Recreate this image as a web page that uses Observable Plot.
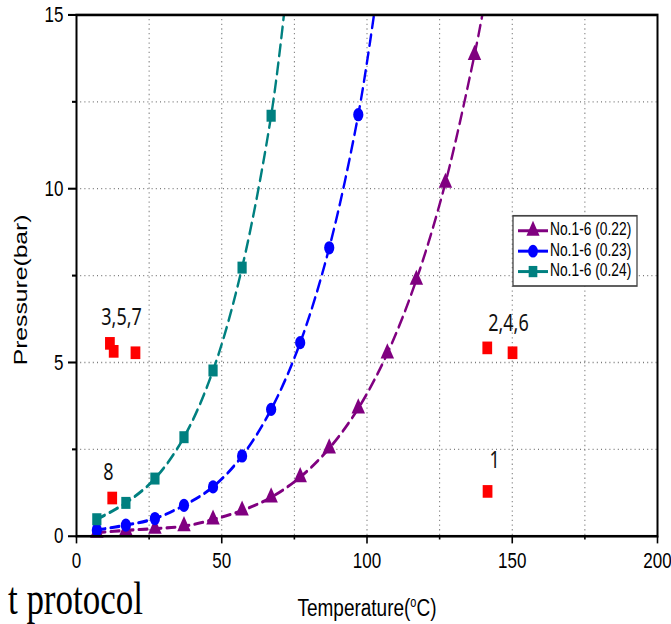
<!DOCTYPE html>
<html>
<head>
<meta charset="utf-8">
<script src="https://cdn.jsdelivr.net/npm/d3@7"></script>
<script src="https://cdn.jsdelivr.net/npm/@observablehq/plot@0.6"></script>
<style>
  html, body { margin: 0; padding: 0; background: #fff; }
  #chart { width: 671px; height: 624px; overflow: hidden; position: relative; }
  #chart svg { transform-origin: 0 0; transform: scale(1, 1.3); display: block; }
</style>
</head>
<body>
<div id="chart"></div>
<script>
// Measured temperatures (°C)
const tempsPurple = [7, 17, 27, 37, 47, 57, 67, 77, 87, 97, 107, 117, 127, 137];
const tempsBlue = [7, 17, 27, 37, 47, 57, 67, 77, 87, 97];
const tempsTeal = [7, 17, 27, 37, 47, 57, 67];

// Pressure (bar) for each sample series
const pressPurple = [0.1, 0.17, 0.22, 0.29, 0.48, 0.74, 1.12, 1.7, 2.53, 3.68, 5.26, 7.38, 10.17, 13.85];
const pressBlue = [0.18, 0.32, 0.51, 0.89, 1.42, 2.31, 3.65, 5.57, 8.3, 12.13];
const pressTeal = [0.49, 0.96, 1.66, 2.85, 4.77, 7.73, 12.1];

// Temperature where each fitted curve leaves the top of the plot (15 bar)
const fitExitTemp = [139.7, 102.4, 71.4];

const seriesNames = ["No.1-6 (0.22)", "No.1-6 (0.23)", "No.1-6 (0.24)"];
const seriesColors = ["#800080", "#0000ff", "#008080"];
const seriesSymbols = ["triangle", "circle", "square"];

// Test points (red squares) and their group labels
const testTemp = [11.5, 12.8, 20.3, 12.3, 141.4, 150.1, 141.5];
const testPress = [5.55, 5.32, 5.28, 1.1, 5.42, 5.28, 1.29];
const groupLabels = ["3,5,7", "8", "2,4,6", "1"];
const groupLabelTemp = [15.5, 11, 148.7, 143.9];
const groupLabelPress = [6.29, 1.84, 6.12, 2.18];

// Axis ticks
const xTicks = [0, 50, 100, 150, 200];
const xMinor = [25, 75, 125, 175];
const yTicks = [0, 5, 10, 15];
const yMinor = [2.5, 7.5, 12.5];
const xGrid = [25, 50, 75, 100, 125, 150, 175];
const yGrid = [2.5, 5, 7.5, 10, 12.5];

const toPoints = (xs, ys) => xs.map((x, i) => ({x, y: ys[i]}));
const series = [
  toPoints(tempsPurple, pressPurple),
  toPoints(tempsBlue, pressBlue),
  toPoints(tempsTeal, pressTeal)
];
const fits = series.map((pts, i) => [...pts, {x: fitExitTemp[i], y: 15}]);
const tests = toPoints(testTemp, testPress);
const labels = groupLabels.map((t, i) => ({t, x: groupLabelTemp[i], y: groupLabelPress[i]}));

const font = "'Liberation Sans', Arial, sans-serif";
const marks = [
  Plot.gridX(xGrid, {stroke: "#7a7a7a", strokeOpacity: 1, strokeDasharray: "1,2.6"}),
  Plot.gridY(yGrid, {stroke: "#7a7a7a", strokeOpacity: 1, strokeDasharray: "1,3.2"}),
  Plot.axisX(xTicks, {tickSize: 6, tickPadding: 6, fontSize: 17, label: null, stroke: "#000", strokeWidth: 1.6}),
  Plot.axisX(xMinor, {tickSize: 3, tickFormat: () => "", label: null, stroke: "#000", strokeWidth: 1.6}),
  Plot.axisY(yTicks, {tickSize: 8, tickPadding: 5, fontSize: 17, label: null, stroke: "#000", strokeWidth: 1.6}),
  Plot.axisY(yMinor, {tickSize: 4, tickFormat: () => "", label: null, stroke: "#000", strokeWidth: 1.6}),
];
fits.forEach((f, i) => {
  marks.push(Plot.line(f, {x: "x", y: "y", stroke: seriesColors[i], strokeWidth: 2.4,
    strokeDasharray: "8.5,5.5", curve: "catmull-rom", clip: true}));
});
series.forEach((s, i) => {
  marks.push(Plot.dot(s, {x: "x", y: "y", symbol: seriesSymbols[i], fill: seriesColors[i],
    stroke: "none", r: seriesSymbols[i] === "triangle" ? 5 : seriesSymbols[i] === "circle" ? 5.1 : 5.2}));
});
marks.push(
  Plot.dot(tests, {x: "x", y: "y", symbol: "square", fill: "#ff0000", r: 5.5}),
  Plot.text(labels, {x: "x", y: "y", text: "t", fontSize: 18, fill: "#111",
    fontFamily: "'Noto Sans', 'Open Sans', sans-serif"}),
  Plot.frame({stroke: "#000", strokeWidth: 2})
);

const chart = Plot.plot({
  width: 671,
  height: 480,
  marginLeft: 76,
  marginRight: 14,
  marginTop: 11,
  marginBottom: 68,
  x: {domain: [0, 200]},
  y: {domain: [0, 15]},
  style: {fontFamily: font, background: "#fff", color: "#000", overflow: "visible"},
  marks
});

const svg = d3.select(chart);

// Axis titles
svg.append("text")
  .attr("transform", "translate(22,223) rotate(-90)")
  .attr("text-anchor", "middle").attr("dominant-baseline", "middle")
  .attr("font-size", 19).attr("font-family", font).attr("fill", "#000")
  .text("Pressure(bar)");
const xt = svg.append("text")
  .attr("x", 367).attr("y", 474)
  .attr("text-anchor", "middle")
  .attr("font-size", 19).attr("font-family", font).attr("fill", "#000");
xt.append("tspan").text("Temperature(");
xt.append("tspan").attr("font-size", 11).attr("dy", -7).text("o");
xt.append("tspan").attr("dy", 7).text("C)");

// Fragment of body text below the figure
svg.append("text")
  .attr("x", 143).attr("y", 472).attr("text-anchor", "end")
  .attr("font-size", 35).attr("font-family", "'Liberation Serif', 'Times New Roman', serif")
  .attr("fill", "#000").text("t protocol");

// Legend
const lg = svg.append("g").attr("font-family", font).attr("font-size", 13.8)
  .attr("text-anchor", "start");
lg.append("rect").attr("x", 513).attr("y", 166).attr("width", 124).attr("height", 54)
  .attr("fill", "#fff").attr("stroke", "#444").attr("stroke-width", 1.3);
const legendSym = {triangle: d3.symbolTriangle, circle: d3.symbolCircle, square: d3.symbolSquare};
seriesNames.forEach((name, i) => {
  const cy = 177.5 + i * 15.7;
  lg.append("line").attr("x1", 518).attr("x2", 548).attr("y1", cy).attr("y2", cy)
    .attr("stroke", seriesColors[i]).attr("stroke-width", 2.3);
  lg.append("path").attr("transform", `translate(533,${cy})`)
    .attr("d", d3.symbol(legendSym[seriesSymbols[i]], 75)())
    .attr("fill", seriesColors[i]);
  lg.append("text").attr("x", 550).attr("y", cy).attr("dominant-baseline", "middle")
    .attr("text-anchor", "start").attr("fill", "#000").text(name);
});

document.getElementById("chart").appendChild(chart);
</script>
</body>
</html>
